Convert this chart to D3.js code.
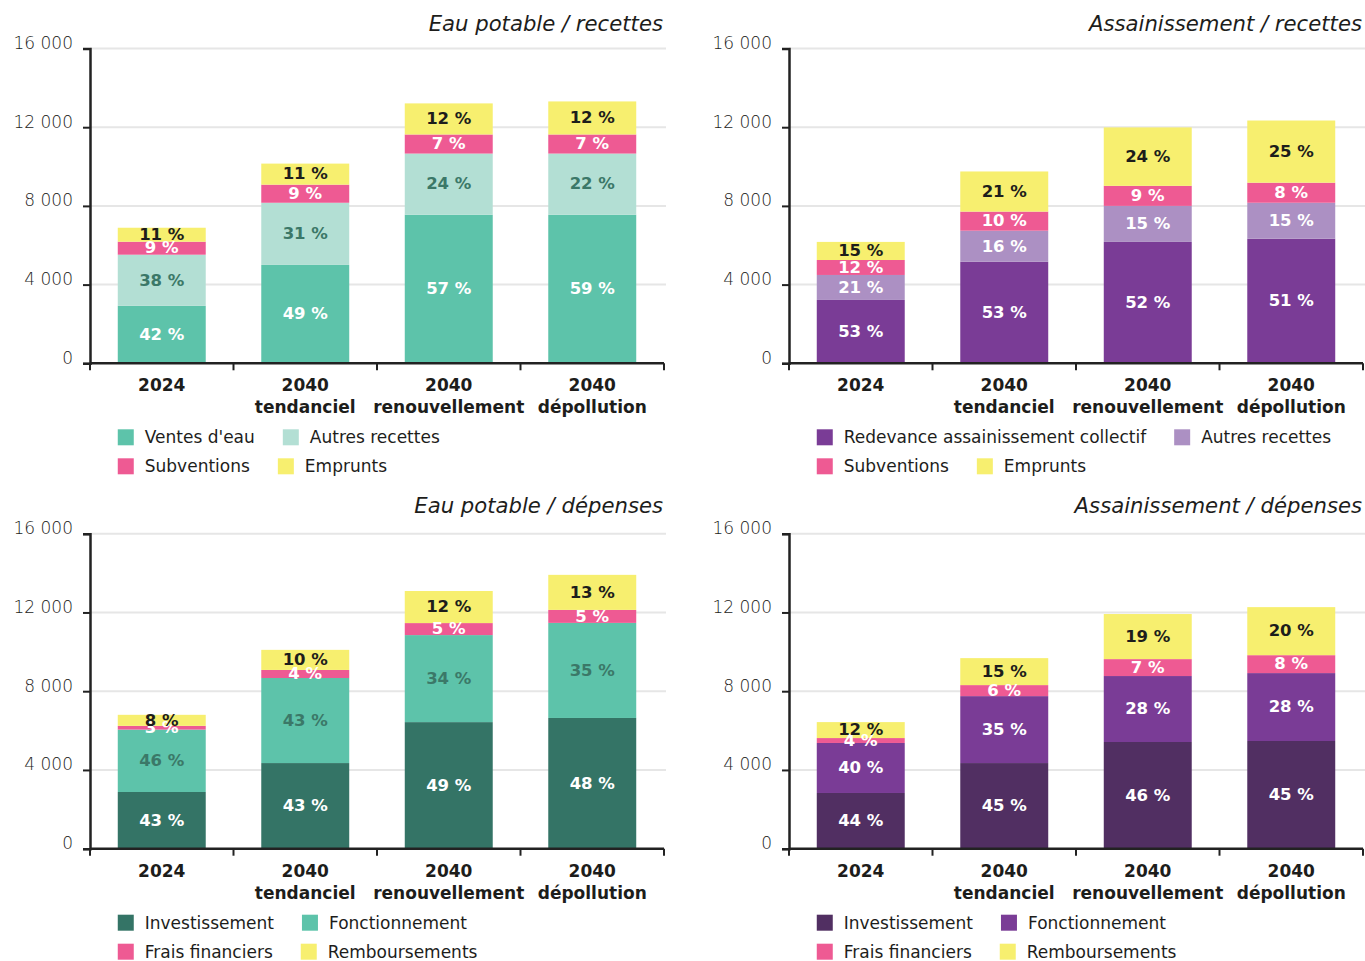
<!DOCTYPE html>
<html>
<head>
<meta charset="utf-8">
<script src="https://cdn.jsdelivr.net/npm/d3@7"></script>
<style>
  html, body { margin: 0; padding: 0; background: #ffffff; }
  svg { display: block; font-family: "DejaVu Sans", "Noto Sans", sans-serif; }
</style>
</head>
<body>
<svg id="chart" width="1365" height="961"></svg>
<script>
// ---------- DATA ----------
const categories = [["2024"], ["2040", "tendanciel"], ["2040", "renouvellement"], ["2040", "dépollution"]];
const yTicks = [0, 4000, 8000, 12000, 16000];

// Eau potable / recettes
const epRecTitle = "Eau potable / recettes";
const epRecNames = ["Ventes d'eau", "Autres recettes", "Subventions", "Emprunts"];
const epRecVentes = [2920, 5000, 7550, 7550];
const epRecAutres = [2600, 3160, 3110, 3110];
const epRecSubv = [660, 920, 970, 970];
const epRecEmpr = [710, 1070, 1580, 1680];
const epRecPctVentes = [42, 49, 57, 59];
const epRecPctAutres = [38, 31, 24, 22];
const epRecPctSubv = [9, 9, 7, 7];
const epRecPctEmpr = [11, 11, 12, 12];

// Assainissement / recettes
const asRecTitle = "Assainissement / recettes";
const asRecNames = ["Redevance assainissement collectif", "Autres recettes", "Subventions", "Emprunts"];
const asRecRedev = [3220, 5160, 6170, 6330];
const asRecAutres = [1270, 1580, 1830, 1830];
const asRecSubv = [760, 970, 1020, 1020];
const asRecEmpr = [920, 2040, 2970, 3160];
const asRecPctRedev = [53, 53, 52, 51];
const asRecPctAutres = [21, 16, 15, 15];
const asRecPctSubv = [12, 10, 9, 8];
const asRecPctEmpr = [15, 21, 24, 25];

// Eau potable / dépenses
const epDepTitle = "Eau potable / dépenses";
const epDepNames = ["Investissement", "Fonctionnement", "Frais financiers", "Remboursements"];
const epDepInvest = [2880, 4350, 6430, 6640];
const epDepFonct = [3170, 4320, 4420, 4830];
const epDepFrais = [190, 410, 610, 660];
const epDepRemb = [560, 1020, 1630, 1780];
const epDepPctInvest = [43, 43, 49, 48];
const epDepPctFonct = [46, 43, 34, 35];
const epDepPctFrais = [3, 4, 5, 5];
const epDepPctRemb = [8, 10, 12, 13];

// Assainissement / dépenses
const asDepTitle = "Assainissement / dépenses";
const asDepNames = ["Investissement", "Fonctionnement", "Frais financiers", "Remboursements"];
const asDepInvest = [2830, 4350, 5420, 5470];
const asDepFonct = [2540, 3400, 3350, 3450];
const asDepFrais = [250, 560, 860, 910];
const asDepRemb = [810, 1370, 2290, 2440];
const asDepPctInvest = [44, 45, 46, 45];
const asDepPctFonct = [40, 35, 28, 28];
const asDepPctFrais = [4, 6, 7, 8];
const asDepPctRemb = [12, 15, 19, 20];

// ---------- STYLE ----------
const C = {
  teal: "#5dc3aa", lightTeal: "#b3dfd4", pink: "#ee5a93", yellow: "#f7ef6f",
  purple: "#7a3c96", lightPurple: "#ac90c3", darkTeal: "#347466", darkPurple: "#512f62",
  ink: "#1d1d1b", tealText: "#3b7868", white: "#ffffff"
};

const panels = [
  { title: epRecTitle, names: epRecNames, values: [epRecVentes, epRecAutres, epRecSubv, epRecEmpr],
    pcts: [epRecPctVentes, epRecPctAutres, epRecPctSubv, epRecPctEmpr],
    colors: [C.teal, C.lightTeal, C.pink, C.yellow], textColors: [C.white, C.tealText, C.white, C.ink],
    x0: 90, x1: 664, yTop: 48.5, yBot: 363.3, titleOff: 17.7 },
  { title: asRecTitle, names: asRecNames, values: [asRecRedev, asRecAutres, asRecSubv, asRecEmpr],
    pcts: [asRecPctRedev, asRecPctAutres, asRecPctSubv, asRecPctEmpr],
    colors: [C.purple, C.lightPurple, C.pink, C.yellow], textColors: [C.white, C.white, C.white, C.ink],
    x0: 789, x1: 1363, yTop: 48.5, yBot: 363.3, titleOff: 17.7 },
  { title: epDepTitle, names: epDepNames, values: [epDepInvest, epDepFonct, epDepFrais, epDepRemb],
    pcts: [epDepPctInvest, epDepPctFonct, epDepPctFrais, epDepPctRemb],
    colors: [C.darkTeal, C.teal, C.pink, C.yellow], textColors: [C.white, C.tealText, C.white, C.ink],
    x0: 90, x1: 664, yTop: 533.7, yBot: 848.7, titleOff: 21.2 },
  { title: asDepTitle, names: asDepNames, values: [asDepInvest, asDepFonct, asDepFrais, asDepRemb],
    pcts: [asDepPctInvest, asDepPctFonct, asDepPctFrais, asDepPctRemb],
    colors: [C.darkPurple, C.purple, C.pink, C.yellow], textColors: [C.white, C.white, C.white, C.ink],
    x0: 789, x1: 1363, yTop: 533.7, yBot: 848.7, titleOff: 21.2 }
];

const svg = d3.select("#chart");
const fmt = v => d3.format(",")(v).replace(/,/g, " ");

panels.forEach(p => {
  const g = svg.append("g");
  const x = d3.scaleBand().domain(d3.range(categories.length)).range([p.x0, p.x1])
    .paddingInner(0.387).paddingOuter(0.1935);
  const y = d3.scaleLinear().domain([0, 16000]).range([p.yBot, p.yTop]);

  // gridlines
  g.append("g").selectAll("line").data(yTicks.filter(t => t > 0)).join("line")
    .attr("x1", p.x0).attr("x2", p.x1 + 2)
    .attr("y1", d => y(d)).attr("y2", d => y(d))
    .attr("stroke", "#e6e6e6").attr("stroke-width", 2);

  // y axis
  const yAxis = d3.axisLeft(y).tickValues(yTicks).tickFormat(fmt).tickSize(7).tickPadding(10);
  const ya = g.append("g").attr("transform", `translate(${p.x0},0)`).call(yAxis);
  ya.select(".domain").attr("stroke", "#222").attr("stroke-width", 2.5);
  ya.selectAll(".tick line").attr("stroke", "#222").attr("stroke-width", 2);
  ya.selectAll(".tick text").attr("font-size", 17).attr("font-weight", 300).attr("fill", C.ink)
    .attr("font-family", "DejaVu Sans").attr("dy", "0em");

  // stacked bars
  const rows = categories.map((c, i) => {
    const o = { i };
    p.values.forEach((s, k) => { o["s" + k] = s[i]; });
    return o;
  });
  const stack = d3.stack().keys(p.values.map((_, k) => "s" + k))(rows);
  stack.forEach((layer, k) => {
    g.append("g").selectAll("rect").data(layer).join("rect")
      .attr("x", d => x(d.data.i)).attr("width", x.bandwidth())
      .attr("y", d => y(d[1])).attr("height", d => y(d[0]) - y(d[1]))
      .attr("fill", p.colors[k]);
  });
  stack.forEach((layer, k) => {
    g.append("g").selectAll("text").data(layer).join("text")
      .attr("x", d => x(d.data.i) + x.bandwidth() / 2)
      .attr("y", d => (y(d[0]) + y(d[1])) / 2)
      .attr("dy", "0.32em")
      .attr("text-anchor", "middle")
      .attr("font-size", 16.5).attr("font-weight", 700)
      .attr("fill", p.textColors[k])
      .text((d, i) => p.pcts[k][i] + " %");
  });

  // x axis
  g.append("line").attr("x1", p.x0).attr("x2", p.x1).attr("y1", p.yBot).attr("y2", p.yBot)
    .attr("stroke", "#222").attr("stroke-width", 2.5);
  g.append("g").selectAll("line").data(d3.range(categories.length + 1)).join("line")
    .attr("x1", d => p.x0 + d * x.step()).attr("x2", d => p.x0 + d * x.step())
    .attr("y1", p.yBot).attr("y2", p.yBot + 7)
    .attr("stroke", "#222").attr("stroke-width", 2);
  const cl = g.append("g").selectAll("text").data(categories).join("text")
    .attr("text-anchor", "middle").attr("font-size", 17).attr("font-weight", 700).attr("fill", C.ink)
    .attr("x", (d, i) => x(i) + x.bandwidth() / 2).attr("y", p.yBot + 28);
  cl.selectAll("tspan").data(d => d).join("tspan")
    .attr("x", function () { return d3.select(this.parentNode).attr("x"); })
    .attr("dy", (d, i) => i === 0 ? 0 : 22).text(d => d);

  // title
  g.append("text").attr("x", p.x1 - 1).attr("y", p.yTop - p.titleOff).attr("text-anchor", "end")
    .attr("font-size", 21.2).attr("font-style", "italic").attr("font-weight", 300).attr("fill", C.ink)
    .text(p.title);

  // legend (each row flows left to right)
  const lx = x(0);
  const rowsY = [p.yBot + 74, p.yBot + 103];
  const lg = g.append("g");
  [[0, 1], [2, 3]].forEach((pair, r) => {
    let cx = lx;
    pair.forEach(k => {
      lg.append("rect").attr("x", cx).attr("y", rowsY[r] - 8).attr("width", 16).attr("height", 16)
        .attr("fill", p.colors[k]);
      const t = lg.append("text").attr("x", cx + 27).attr("y", rowsY[r]).attr("dy", "0.36em")
        .attr("font-size", 17).attr("fill", C.ink).text(p.names[k]);
      cx = cx + 27 + t.node().getComputedTextLength() + 28;
    });
  });
});
</script>
</body>
</html>
